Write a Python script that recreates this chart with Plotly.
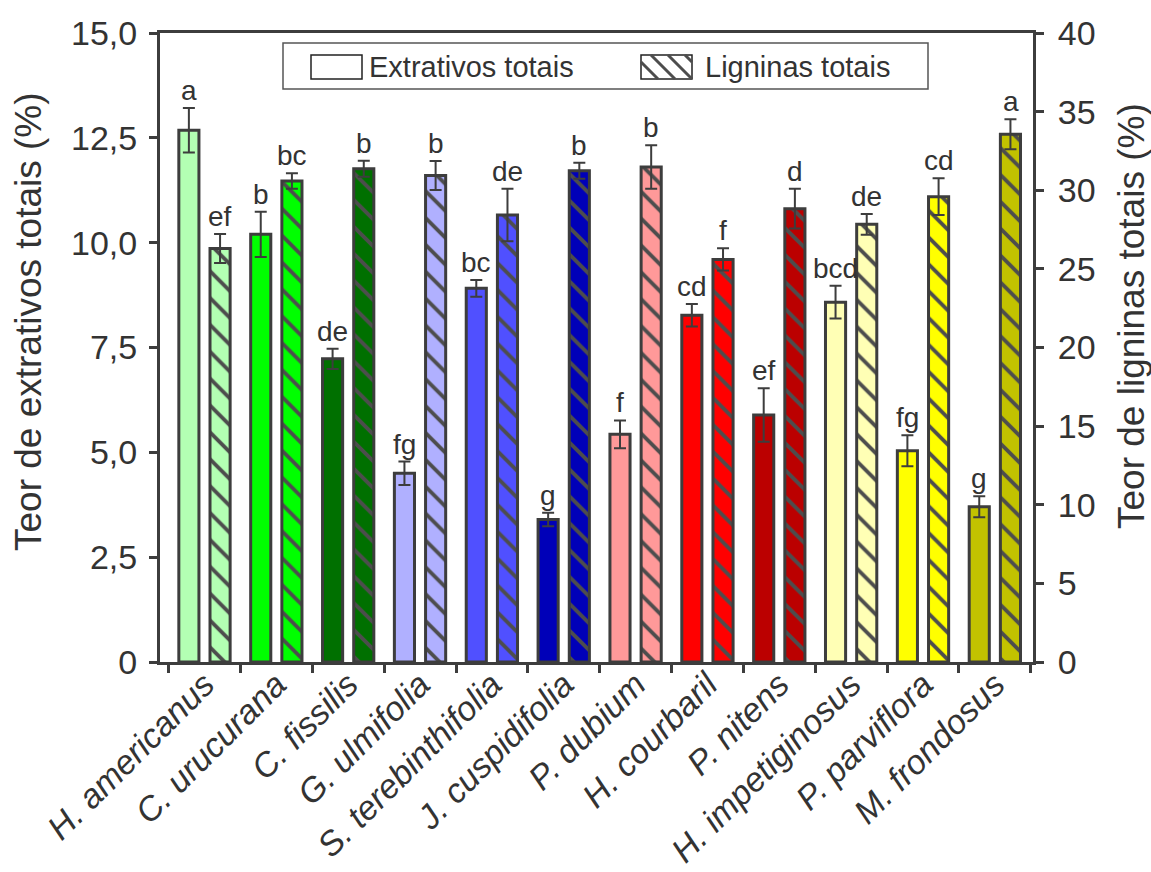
import plotly.graph_objects as go

# Wood species and their chemical composition (mean ± standard deviation)
species = ["H. americanus", "C. urucurana", "C. fissilis", "G. ulmifolia",
           "S. terebinthifolia", "J. cuspidifolia", "P. dubium", "H. courbaril",
           "P. nitens", "H. impetiginosus", "P. parviflora", "M. frondosus"]
extractives = [12.68, 10.20, 7.23, 4.50, 8.91, 3.40, 5.43, 8.27, 5.89, 8.58, 5.04, 3.70]
extractives_err = [0.53, 0.54, 0.24, 0.28, 0.20, 0.16, 0.33, 0.27, 0.64, 0.39, 0.37, 0.25]
lignins = [26.30, 30.59, 31.37, 30.94, 28.43, 31.24, 31.48, 25.60, 28.83, 27.83, 29.59, 33.56]
lignins_err = [0.92, 0.49, 0.51, 0.92, 1.67, 0.51, 1.38, 0.71, 1.27, 0.66, 1.17, 0.95]
extractives_letters = ["a", "b", "de", "fg", "bc", "g", "f", "cd", "ef", "bcd", "fg", "g"]
lignins_letters = ["ef", "bc", "b", "b", "de", "b", "b", "f", "d", "de", "cd", "a"]
colors = ["#b3ffb3", "#00ff00", "#007000", "#b0b0ff", "#5050ff", "#0000b8",
          "#ff9999", "#ff0000", "#bb0000", "#ffffb5", "#ffff00", "#c2c200"]

left_ticks = [0, 2.5, 5, 7.5, 10, 12.5, 15]
left_ticktext = ["0", "2,5", "5,0", "7,5", "10,0", "12,5", "15,0"]
right_ticks = [0, 5, 10, 15, 20, 25, 30, 35, 40]

# figure geometry (pixels)
W, H = 1151, 872
ML, MR, MT, MB = 160, 118, 33, 210
PW, PH = W - ML - MR, H - MT - MB

EDGE = "#3d3d3d"
HATCH = "#4d4d4d"
TEXT = "#333333"
FONT = "Liberation Sans"

BAR_W = 0.28
OFF_L = -0.358
OFF_R = 0.076


def px(x):
    return (x - ML) / PW


def py(y):
    return (H - MB - y) / PH


fig = go.Figure()

# total extractives (plain bars, left axis)
fig.add_trace(go.Bar(
    x=species, y=extractives, name="Extrativos totais",
    width=BAR_W, offset=OFF_L,
    marker=dict(color=colors, line=dict(color=EDGE, width=3)),
    error_y=dict(type="data", array=extractives_err, color=EDGE, thickness=2, width=6),
    showlegend=False,
))

# total lignins (right axis): coloured fill, then the hatching on top
fig.add_trace(go.Bar(
    x=species, y=lignins, name="Ligninas totais", yaxis="y2",
    width=BAR_W, offset=OFF_R,
    marker=dict(color=colors, line=dict(width=0)),
    showlegend=False, hoverinfo="skip",
))
fig.add_trace(go.Bar(
    x=species, y=lignins, name="Ligninas totais", yaxis="y2",
    width=BAR_W, offset=OFF_R,
    marker=dict(color=HATCH, line=dict(color=EDGE, width=3),
                pattern=dict(shape="\\", fgcolor=HATCH, bgcolor="rgba(0,0,0,0)",
                             fgopacity=1, size=19, solidity=0.2, fillmode="replace")),
    error_y=dict(type="data", array=lignins_err, color=EDGE, thickness=2, width=6),
    showlegend=False,
))

annotations = []
for sp, v, e, t in zip(species, extractives, extractives_err, extractives_letters):
    annotations.append(dict(x=sp, y=v + e, xref="x", yref="y", text=t, showarrow=False,
                            xshift=-15.7, yanchor="bottom",
                            font=dict(family=FONT, size=28, color=TEXT)))
for sp, v, e, t in zip(species, lignins, lignins_err, lignins_letters):
    annotations.append(dict(x=sp, y=v + e, xref="x", yref="y2", text=t, showarrow=False,
                            xshift=15.6, yanchor="bottom",
                            font=dict(family=FONT, size=28, color=TEXT)))

# axis titles
annotations.append(dict(xref="paper", yref="paper", x=px(28), y=py(322), textangle=-90,
                        text="Teor de extrativos totais (%)", showarrow=False,
                        xanchor="center", yanchor="middle",
                        font=dict(family=FONT, size=37, color=TEXT)))
annotations.append(dict(xref="paper", yref="paper", x=px(1132), y=py(316), textangle=-90,
                        text="Teor de ligninas totais (%)", showarrow=False,
                        xanchor="center", yanchor="middle",
                        font=dict(family=FONT, size=37, color=TEXT)))

# legend: framed box with a plain and a hatched swatch
shapes = [
    dict(type="rect", xref="paper", yref="paper", x0=px(283), x1=px(928), y0=py(43), y1=py(89),
         line=dict(color="#555555", width=1.5), fillcolor="white", layer="above"),
    dict(type="rect", xref="paper", yref="paper", x0=px(311), x1=px(362), y0=py(55), y1=py(79),
         line=dict(color="#222222", width=1.5), fillcolor="white", layer="above"),
    dict(type="rect", xref="paper", yref="paper", x0=px(641), x1=px(692), y0=py(55), y1=py(79),
         line=dict(color="#222222", width=1.5), fillcolor="white", layer="above"),
]
for (xa, ya, xb, yb) in [(641, 62, 658, 79), (651, 55, 675, 79), (668, 55, 692, 79), (685, 55, 692, 62)]:
    shapes.append(dict(type="line", xref="paper", yref="paper",
                       x0=px(xa), y0=py(ya), x1=px(xb), y1=py(yb),
                       line=dict(color=HATCH, width=3), layer="above"))

annotations.append(dict(xref="paper", yref="paper", x=px(367), y=py(67), text="Extrativos totais",
                        showarrow=False, xanchor="left", yanchor="middle",
                        font=dict(family=FONT, size=29, color=TEXT)))
annotations.append(dict(xref="paper", yref="paper", x=px(703), y=py(67), text="Ligninas totais",
                        showarrow=False, xanchor="left", yanchor="middle",
                        font=dict(family=FONT, size=29, color=TEXT)))

fig.update_layout(
    width=W, height=H,
    margin=dict(l=ML, r=MR, t=MT, b=MB, autoexpand=False),
    paper_bgcolor="white", plot_bgcolor="white",
    barmode="overlay",
    font=dict(family=FONT, color=TEXT),
    annotations=annotations,
    shapes=shapes,
    xaxis=dict(
        type="category", range=[-0.62, 11.53],
        showline=True, linecolor=EDGE, linewidth=3, mirror=True,
        ticks="outside", tickson="boundaries", ticklen=8, tickwidth=3, tickcolor=EDGE,
        tickangle=-45, showgrid=False, zeroline=False, ticklabelstandoff=-14,
        tickfont=dict(family=FONT, size=34, color=TEXT, style="italic"),
    ),
    yaxis=dict(
        range=[0, 15], tickvals=left_ticks, ticktext=left_ticktext,
        showline=True, linecolor=EDGE, linewidth=3,
        ticks="outside", ticklen=8, tickwidth=3, tickcolor=EDGE,
        showgrid=False, zeroline=False, ticklabelstandoff=5,
        tickfont=dict(family=FONT, size=34, color=TEXT),
    ),
    yaxis2=dict(
        range=[0, 40], tickvals=right_ticks, overlaying="y", side="right",
        showline=True, linecolor=EDGE, linewidth=3,
        ticks="outside", ticklen=8, tickwidth=3, tickcolor=EDGE,
        showgrid=False, zeroline=False, ticklabelstandoff=7,
        tickfont=dict(family=FONT, size=34, color=TEXT),
    ),
)

fig.write_html("out.html")
